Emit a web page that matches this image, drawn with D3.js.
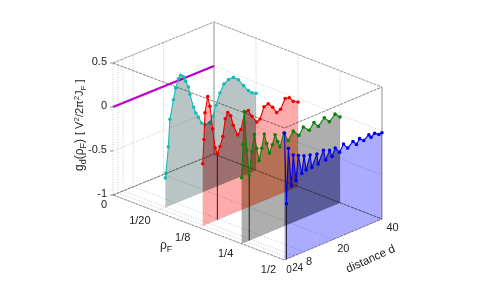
<!DOCTYPE html>
<html>
<head>
<meta charset="utf-8">
<script src="https://cdnjs.cloudflare.com/ajax/libs/d3/7.8.5/d3.min.js"></script>
<style>
html, body { margin: 0; padding: 0; background: #fff; }
text { font-family: "Liberation Sans", Arial, sans-serif; fill: #222; }
</style>
</head>
<body>
<svg id="chart" width="478" height="294" style="isolation:isolate"></svg>
<script>
var zTicks = [0.5, 0, -0.5, -1];
var zLabels = ['0.5', '0', '-0.5', '-1'];
var rhoTicks = ['0', '1/20', '1/8', '1/4', '1/2'];
var dTicks = [0, 2, 4, 8, 20, 40];

var magentaD = [0, 10, 20, 30, 40];
var magentaG = [0, 0, 0, 0, 0];

var cyanD = [3.8, 4, 5, 5.6, 7, 7.9, 9, 9.9, 11, 11.9, 13, 13.6, 15, 16, 17, 18.3, 19.6, 21.4, 22.7, 24, 25.6, 27.2, 29, 31, 33, 35, 37, 38.4, 40];
var cyanG = [-0.665, -0.615, -0.325, -0.02, 0.185, 0.305, 0.4, 0.43, 0.4, 0.34, 0.26, 0.17, 0.01, -0.07, -0.13, -0.21, -0.245, -0.245, -0.185, -0.075, 0.045, 0.13, 0.16, 0.16, 0.11, 0.02, -0.06, -0.1, -0.125];

var redD = [1.6, 2.1, 2.5, 3.6, 4.5, 5.6, 6.6, 7.5, 8.6, 9.7, 10.7, 11.7, 12.9, 13.9, 15.7, 17, 18.6, 20, 21.4, 23.4, 24.7, 26.3, 28, 29.8, 31.4, 33, 34.8, 36.5, 38.1, 40];
var redG = [-0.295, -0.025, 0.275, 0.445, 0.325, 0.055, -0.17, -0.25, -0.18, -0.08, 0.11, 0.17, 0.12, 0, -0.13, -0.085, 0.095, 0.095, 0.015, -0.075, -0.055, 0.065, 0.08, 0.02, -0.06, -0.04, 0.06, 0.05, -0.01, -0.04];

var greenD = [0, 0.6, 1.1, 2.1, 3.1, 4.1, 5.2, 6.1, 7.1, 8.2, 9.2, 10.2, 11.3, 12.5, 13.6, 14.7, 15.6, 17.2, 18.9, 21, 23.3, 25.1, 27.5, 29.4, 31.2, 33.6, 35.7, 38, 40];
var greenG = [-0.25, 0.12, 0.49, 0.04, -0.26, 0, 0.18, 0.01, -0.14, -0.01, 0.14, 0.02, -0.1, -0.02, 0.08, -0.01, -0.08, 0.06, -0.05, 0.035, -0.04, 0.035, -0.03, 0.035, -0.03, 0.04, -0.03, 0.03, -0.025];

var blueD = [0, 0.8, 1.6, 2.8, 3.6, 4.7, 5.7, 7.1, 8, 8.9, 10.5, 11.2, 13.3, 13.8, 16, 16.9, 18.5, 19.5, 20.8, 22.6, 24.2, 25.9, 28.1, 29.5, 30.8, 32.5, 34.6, 35.5, 37, 38.7, 40];
var blueG = [0.44, -0.37, 0.25, -0.19, 0.15, -0.15, 0.12, -0.1, 0.09, -0.08, 0.07, -0.08, 0.05, -0.07, 0.06, -0.06, 0.03, -0.05, 0.03, -0.04, 0.035, -0.03, 0.02, -0.03, 0.02, -0.02, 0.02, -0.02, 0.01, -0.025, -0.02];

var svg = d3.select('#chart');
var defs = svg.append('defs');

// oblique view of the box, the far edge is a bit longer than the near one
var rhoScale = d3.scalePoint().domain(rhoTicks).range([0, 1]);
var dScale = d3.scaleLinear().domain([0, 40]).range([0, 1]);
var zScale = d3.scaleLinear().domain([-1, 0.5]).range([0, 132]);

function project(r, d, z) {
	var t = dScale(d);
	return [113 + 171.5 * r + (101 - 3.5 * r) * t, 195 + 65 * r - 41 * t - zScale(z)];
}
var line = d3.line();

function path3d(pts) {
	return line(pts.map(function(p) { return project(p[0], p[1], p[2]); }));
}
function edge(pts, color, width, dash) {
	svg.append('path').attr('d', path3d(pts)).attr('fill', 'none')
		.attr('stroke', color).attr('stroke-width', width)
		.attr('stroke-dasharray', dash || null);
}

// dotted grid on the two back walls and the floor
var gridColor = '#b4b4b4';
dTicks.forEach(function(d) {
	edge([[0, d, -1], [0, d, 0.5]], gridColor, 0.7, '1 1.5');
	edge([[0, d, -1], [1, d, -1]], gridColor, 0.7, '1 1.5');
});
rhoScale.domain().forEach(function(t) {
	var r = rhoScale(t);
	edge([[r, 40, -1], [r, 40, 0.5]], gridColor, 0.7, '1 1.5');
	edge([[r, 0, -1], [r, 40, -1]], gridColor, 0.7, '1 1.5');
});
zTicks.forEach(function(z) {
	edge([[0, 0, z], [0, 40, z]], gridColor, 0.7, '1 1.5');
	edge([[0, 40, z], [1, 40, z]], gridColor, 0.7, '1 1.5');
});

// box edges behind the curtains
edge([[0, 0, 0.5], [0, 40, 0.5], [1, 40, 0.5]], '#8c8c8c', 0.8, '3 1');
edge([[0, 0, -1], [0, 40, -1], [1, 40, -1]], '#8c8c8c', 0.8, '3 1');
edge([[0, 40, -1], [0, 40, 0.5]], '#bdbdbd', 1.6);
edge([[1, 40, -1], [1, 40, 0.5]], '#9a9a9a', 1);
edge([[0, 0, 0.5], [1, 0, 0.5], [1, 40, 0.5]], '#8c8c8c', 0.8, '3 1');
edge([[0, 0, -1], [1, 0, -1], [1, 40, -1]], '#777', 0.8, '3 1');

var prevOutline = null;
function curtain(id, r, ds, gs, stroke, fill, alpha, over, overAlpha, dropAt) {
	var curve = ds.map(function(d, i) { return [r, d, gs[i]]; });
	var outline = path3d([[r, ds[0], -1]].concat(curve, [[r, ds[ds.length - 1], -1]])) + 'Z';
	svg.append('path').attr('d', outline)
		.attr('fill', fill).attr('fill-opacity', alpha).attr('stroke', 'none')
		.style('mix-blend-mode', 'multiply');
	// where two curtains overlap the reference goes darker than the plain mix
	if (prevOutline) {
		defs.append('clipPath').attr('id', 'clip-' + id).append('path').attr('d', prevOutline);
		svg.append('path').attr('d', outline).attr('clip-path', 'url(#clip-' + id + ')')
			.attr('fill', over).attr('fill-opacity', overAlpha);
	}
	prevOutline = outline;
	if (dropAt != null) {
		edge([[r, ds[dropAt], gs[dropAt]], [r, ds[dropAt], -1]], '#111', 0.9);
	}
	edge(curve, stroke, 1.1);
	svg.append('g').selectAll('circle').data(curve).enter().append('circle')
		.attr('cx', function(p) { return project(p[0], p[1], p[2])[0]; })
		.attr('cy', function(p) { return project(p[0], p[1], p[2])[1]; })
		.attr('r', 1.8)
		.attr('fill', stroke);
}

// rho = 0 line, no curtain
edge(magentaD.map(function(d, i) { return [0, d, magentaG[i]]; }), '#bb00cc', 2.4);

curtain('cyan', 0.25, cyanD, cyanG, '#14bcbc', '#6c8484', 0.48, null, 0, null);
curtain('red', 0.5, redD, redG, '#f00000', '#ff0000', 0.33, '#000', 0.15, 7);
curtain('green', 0.75, greenD, greenG, '#0a820a', '#555555', 0.48, '#c86000', 0.28, 4);
curtain('blue', 1, blueD, blueG, '#0000f0', '#0000ff', 0.33, '#000050', 0.22, 1);

// edges again, they show through the curtains
edge([[0, 0, 0.5], [1, 0, 0.5], [1, 40, 0.5]], 'rgba(60,60,60,0.35)', 0.7, '3 1');
edge([[0, 0, -1], [0, 40, -1], [1, 40, -1]], 'rgba(40,40,40,0.4)', 0.7, '3 1');

// z ticks and labels
zTicks.forEach(function(z, i) {
	var p = project(0, 0, z);
	svg.append('line').attr('x1', p[0] - 3).attr('x2', p[0]).attr('y1', p[1]).attr('y2', p[1])
		.attr('stroke', '#666').attr('stroke-width', 0.7);
	svg.append('text').attr('x', p[0] - 6).attr('y', p[1] + 2.3)
		.attr('text-anchor', 'end').attr('font-size', 11).text(zLabels[i]);
});

// rho labels
rhoScale.domain().forEach(function(t) {
	var p = project(rhoScale(t), 0, -1);
	svg.append('text').attr('x', p[0] - (t === '0' ? 9 : 16)).attr('y', p[1] + 13)
		.attr('text-anchor', 'middle').attr('font-size', 11).text(t);
});

// d labels
var dOffsetX = [4.5, 5.7, 6, 5, 10, 10.5];
var dOffsetY = [13, 13.5, 15, 13, 12, 12];
dTicks.forEach(function(d, i) {
	var p = project(1, d, -1);
	svg.append('text').attr('x', p[0] + dOffsetX[i]).attr('y', p[1] + dOffsetY[i])
		.attr('text-anchor', 'middle').attr('font-size', d < 8 ? 10 : 11).text(d);
});

// axis titles
var rhoLabel = svg.append('text').attr('x', 160).attr('y', 249).attr('font-size', 12);
rhoLabel.append('tspan').text('ρ');
rhoLabel.append('tspan').attr('dy', 3).attr('font-size', 9).text('F');

svg.append('text').attr('transform', 'translate(372,262) rotate(-24)')
	.attr('text-anchor', 'middle').attr('font-size', 11.5).text('distance d');

var gLabel = svg.append('text').attr('transform', 'translate(83,171) rotate(-90)')
	.attr('font-size', 12);
gLabel.append('tspan').text('g');
gLabel.append('tspan').attr('dy', 3).attr('font-size', 9).text('d');
gLabel.append('tspan').attr('dy', -3).text('(ρ');
gLabel.append('tspan').attr('dy', 3).attr('font-size', 9).text('F');
gLabel.append('tspan').attr('dy', -3).text(')');

var unitLabel = svg.append('text').attr('transform', 'translate(83,135) rotate(-90)')
	.attr('font-size', 11);
unitLabel.append('tspan').text('[ V');
unitLabel.append('tspan').attr('dy', -4).attr('font-size', 8).text('2');
unitLabel.append('tspan').attr('dy', 4).text('/2π');
unitLabel.append('tspan').attr('dy', -4).attr('font-size', 8).text('2');
unitLabel.append('tspan').attr('dy', 4).text('J');
unitLabel.append('tspan').attr('dy', 3).attr('font-size', 8).text('F');
unitLabel.append('tspan').attr('dy', -3).text(' ]');
</script>
</body>
</html>
